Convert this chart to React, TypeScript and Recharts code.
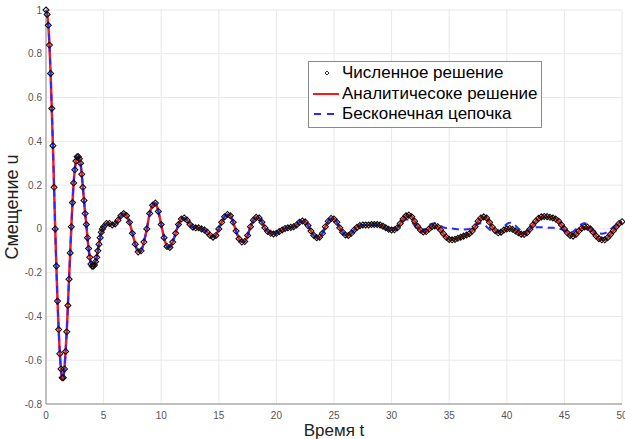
// Затухающие колебания: численное, аналитическое решение и бесконечная цепочка
import { LineChart, Line, XAxis, YAxis, CartesianGrid, Legend, Label } from "recharts";

const font = "'Liberation Sans', Arial, Helvetica, sans-serif";

// сетка по времени: в начале шаг 0.1 (крутой участок), дальше 0.25
const earlyStart = 0;
const earlyStep = 0.1;
const lateStart = 5.25;
const lateStep = 0.25;
const chainSplit = 96; // с t = 29.25 цепочка расходится с решением

// t = 0 .. 5, шаг 0.1
const analyticEarly = [
  1.0, 0.98, 0.93, 0.84, 0.71, 0.55, 0.38, 0.19, 0.0, -0.17,
  -0.33, -0.46, -0.57, -0.64, -0.68, -0.68, -0.64, -0.56, -0.47, -0.35,
  -0.23, -0.11, 0.01, 0.12, 0.21, 0.27, 0.31, 0.33, 0.33, 0.32,
  0.3, 0.25, 0.19, 0.13, 0.07, 0.02, -0.04, -0.09, -0.13, -0.16,
  -0.17, -0.17, -0.165, -0.15, -0.13, -0.1, -0.07, -0.04, -0.015, 0.0,
  0.01,
];

// t = 5.25 .. 50, шаг 0.25
const analyticLate = [
  0.025, 0.025, 0.018, 0.022, 0.04, 0.06, 0.07, 0.06, 0.03, -0.02,
  -0.07, -0.105, -0.1, -0.06, 0.0, 0.07, 0.108, 0.118, 0.08, 0.02,
  -0.04, -0.08, -0.085, -0.06, -0.02, 0.02, 0.045, 0.05, 0.04, 0.02,
  0.008, 0.005, 0.005, 0.0, -0.005, -0.015, -0.03, -0.038, -0.03, 0.0,
  0.03, 0.055, 0.066, 0.06, 0.03, -0.01, -0.045, -0.06, -0.058, -0.03,
  0.01, 0.04, 0.053, 0.05, 0.03, 0.005, -0.012, -0.02, -0.023, -0.02,
  -0.012, -0.005, 0.002, 0.005, 0.007, 0.01, 0.018, 0.03, 0.036, 0.032,
  0.015, -0.01, -0.03, -0.04, -0.038, -0.02, 0.01, 0.035, 0.048, 0.045,
  0.03, 0.005, -0.015, -0.028, -0.03, -0.02, -0.005, 0.007, 0.015, 0.018,
  0.018, 0.018, 0.02, 0.02, 0.02, 0.018, 0.012, 0.005, -0.002, -0.005,
  -0.004, 0.005, 0.025, 0.045, 0.06, 0.063, 0.055, 0.035, 0.012, -0.005,
  -0.014, -0.012, 0.0, 0.01, 0.013, 0.01, -0.005, -0.022, -0.038, -0.048,
  -0.05, -0.048, -0.043, -0.038, -0.033, -0.028, -0.022, -0.01, 0.01, 0.035,
  0.05, 0.055, 0.05, 0.03, 0.008, -0.008, -0.018, -0.015, -0.005, 0.0,
  0.002, -0.002, -0.01, -0.018, -0.024, -0.025, -0.018, -0.002, 0.018, 0.035,
  0.048, 0.055, 0.057, 0.056, 0.053, 0.05, 0.045, 0.035, 0.018, 0.0,
  -0.018, -0.03, -0.033, -0.025, -0.01, 0.003, 0.009, 0.008, 0.0, -0.015,
  -0.032, -0.045, -0.05, -0.05, -0.04, -0.025, -0.008, 0.01, 0.025, 0.033,
];

// бесконечная цепочка, t = 29.25 .. 50, шаг 0.25
const chainTail = [
  0.01, 0.0, -0.008, -0.01, -0.006, 0.005, 0.02, 0.035, 0.043, 0.043,
  0.032, 0.015, -0.005, -0.013, -0.008, 0.005, 0.017, 0.024, 0.026, 0.022,
  0.014, 0.007, 0.004, 0.003, 0.002, 0.0, -0.002, -0.003, -0.003, -0.002,
  0.0, 0.006, 0.014, 0.022, 0.026, 0.022, 0.01, -0.003, -0.012, -0.016,
  -0.014, -0.004, 0.01, 0.022, 0.028, 0.026, 0.015, 0.002, -0.01, -0.014,
  -0.01, -0.002, 0.004, 0.007, 0.008, 0.008, 0.007, 0.006, 0.005, 0.005,
  0.004, 0.002, -0.002, -0.008, -0.014, -0.017, -0.013, -0.002, 0.012, 0.022,
  0.026, 0.022, 0.01, -0.005, -0.016, -0.021, -0.022, -0.02, -0.012, -0.002,
  0.008, 0.018, 0.027, 0.033,
];

const xTicks = [0, 5, 10, 15, 20, 25, 30, 35, 40, 45, 50];
const yTicks = [-0.8, -0.6, -0.4, -0.2, 0, 0.2, 0.4, 0.6, 0.8, 1];

const analytic = analyticEarly.concat(analyticLate);
const chain = analyticEarly.concat(analyticLate.slice(0, chainSplit), chainTail);
const times = analyticEarly
  .map((_, i) => +(earlyStart + i * earlyStep).toFixed(2))
  .concat(analyticLate.map((_, i) => lateStart + i * lateStep));

const data = times.map((t, i) => ({
  t,
  numeric: analytic[i],
  analytic: analytic[i],
  chain: chain[i],
}));

const Diamond = (props: any) => {
  const { cx, cy, index } = props;
  if (cx == null || cy == null) return <g key={index} />;
  const r = 3;
  return (
    <path
      key={index}
      d={`M${cx},${cy - r}L${cx + r},${cy}L${cx},${cy + r}L${cx - r},${cy}Z`}
      fill="none"
      stroke="#111"
      strokeWidth={1.1}
    />
  );
};

const LegendBox = () => (
  <div
    style={{
      border: "1px solid #8a8a8a",
      background: "#fff",
      fontFamily: font,
      fontSize: 17,
      color: "#000",
      padding: "1px 4px 2px 2px",
      lineHeight: "20.5px",
      whiteSpace: "nowrap",
    }}
  >
    <div style={{ display: "flex", alignItems: "center" }}>
      <svg width={30} height={20} style={{ marginRight: 1 }}>
        <path d="M16,8L18,10L16,12L14,10Z" fill="none" stroke="#333" strokeWidth={1} />
      </svg>
      Численное решение
    </div>
    <div style={{ display: "flex", alignItems: "center" }}>
      <svg width={30} height={20} style={{ marginRight: 1 }}>
        <line x1={2} y1={10} x2={28} y2={10} stroke="#ff1a1a" strokeWidth={2} />
      </svg>
      Аналитичесоке решение
    </div>
    <div style={{ display: "flex", alignItems: "center" }}>
      <svg width={30} height={20} style={{ marginRight: 1 }}>
        <line x1={3} y1={10} x2={28} y2={10} stroke="#2a2aff" strokeWidth={2} strokeDasharray="7 6" />
      </svg>
      Бесконечная цепочка
    </div>
  </div>
);

export default function App() {
  return (
    <div style={{ position: "absolute", left: 0, top: 0, background: "#fff" }}>
      <LineChart
        width={625}
        height={439}
        data={data}
        margin={{ top: 10, right: 3, bottom: 0, left: 0 }}
      >
        <CartesianGrid stroke="#e8e8e8" />
        <XAxis
          dataKey="t"
          type="number"
          domain={[0, 50]}
          ticks={xTicks}
          interval={0}
          height={35}
          tickSize={0}
          tickMargin={8}
          stroke="#8c8c8c"
          tick={{ fontSize: 10, fill: "#555", fontFamily: font }}
        >
          <Label
            content={() => (
              <text x={334} y={436} textAnchor="middle" fontSize={17} fontFamily={font} fill="#222">
                Время t
              </text>
            )}
          />
        </XAxis>
        <YAxis
          type="number"
          domain={[-0.8, 1]}
          ticks={yTicks}
          interval={0}
          width={46}
          tickSize={0}
          tickMargin={4}
          stroke="#8c8c8c"
          tick={{ fontSize: 10, fill: "#555", fontFamily: font }}
        >
          <Label
            content={() => (
              <text
                x={18}
                y={207}
                transform="rotate(-90 18 207)"
                textAnchor="middle"
                fontSize={18}
                fontFamily={font}
                fill="#222"
              >
                Смещение u
              </text>
            )}
          />
        </YAxis>
        <Legend
          layout="vertical"
          verticalAlign="middle"
          align="center"
          wrapperStyle={{ left: 308, top: 61, width: "auto" }}
          content={LegendBox}
        />
        <Line
          dataKey="numeric"
          stroke="none"
          type="monotone"
          dot={Diamond}
          activeDot={false}
          isAnimationActive={false}
        />
        <Line
          dataKey="analytic"
          stroke="#ff1a1a"
          strokeWidth={2.5}
          type="monotone"
          dot={false}
          isAnimationActive={false}
        />
        <Line
          dataKey="chain"
          stroke="#2a2aff"
          strokeWidth={2}
          strokeDasharray="7 5"
          type="monotone"
          dot={false}
          isAnimationActive={false}
        />
      </LineChart>
    </div>
  );
}
